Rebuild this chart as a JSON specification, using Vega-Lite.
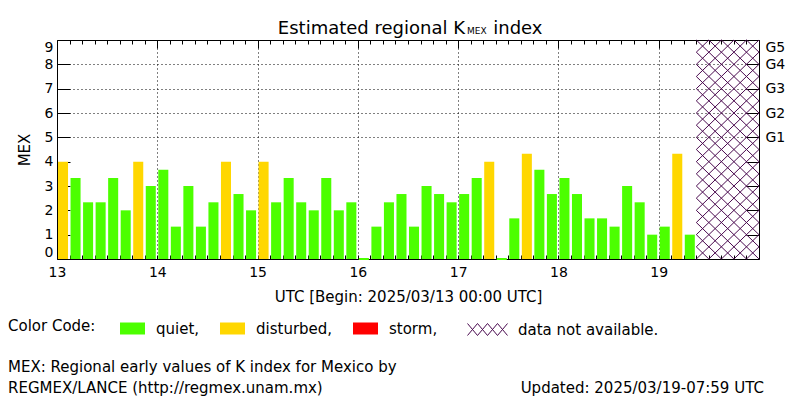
{
  "$schema": "https://vega.github.io/schema/vega-lite/v6.json",
  "width": 702,
  "height": 219,
  "autosize": {"type": "none"},
  "padding": {"left": 57, "top": 40, "right": 41, "bottom": 141},
  "background": "white",
  "config": {
    "font": "DejaVu Sans",
    "view": {"stroke": null},
    "axis": {
      "domainColor": "black", "tickColor": "black", "labelColor": "black", "titleColor": "black",
      "labelFontSize": 14, "titleFontSize": 15, "titleFontWeight": "normal",
      "labelFont": "DejaVu Sans", "titleFont": "DejaVu Sans", "domainWidth": 1, "tickWidth": 1
    },
    "legend": {"labelFont": "DejaVu Sans", "titleFont": "DejaVu Sans"}
  },
  "datasets": {
    "kmex": [
      {"start": 13.0, "end": 13.125, "k": 4.0, "status": "disturbed"},
      {"start": 13.125, "end": 13.25, "k": 3.33, "status": "quiet"},
      {"start": 13.25, "end": 13.375, "k": 2.33, "status": "quiet"},
      {"start": 13.375, "end": 13.5, "k": 2.33, "status": "quiet"},
      {"start": 13.5, "end": 13.625, "k": 3.33, "status": "quiet"},
      {"start": 13.625, "end": 13.75, "k": 2.0, "status": "quiet"},
      {"start": 13.75, "end": 13.875, "k": 4.0, "status": "disturbed"},
      {"start": 13.875, "end": 14.0, "k": 3.0, "status": "quiet"},
      {"start": 14.0, "end": 14.125, "k": 3.67, "status": "quiet"},
      {"start": 14.125, "end": 14.25, "k": 1.33, "status": "quiet"},
      {"start": 14.25, "end": 14.375, "k": 3.0, "status": "quiet"},
      {"start": 14.375, "end": 14.5, "k": 1.33, "status": "quiet"},
      {"start": 14.5, "end": 14.625, "k": 2.33, "status": "quiet"},
      {"start": 14.625, "end": 14.75, "k": 4.0, "status": "disturbed"},
      {"start": 14.75, "end": 14.875, "k": 2.67, "status": "quiet"},
      {"start": 14.875, "end": 15.0, "k": 2.0, "status": "quiet"},
      {"start": 15.0, "end": 15.125, "k": 4.0, "status": "disturbed"},
      {"start": 15.125, "end": 15.25, "k": 2.33, "status": "quiet"},
      {"start": 15.25, "end": 15.375, "k": 3.33, "status": "quiet"},
      {"start": 15.375, "end": 15.5, "k": 2.33, "status": "quiet"},
      {"start": 15.5, "end": 15.625, "k": 2.0, "status": "quiet"},
      {"start": 15.625, "end": 15.75, "k": 3.33, "status": "quiet"},
      {"start": 15.75, "end": 15.875, "k": 2.0, "status": "quiet"},
      {"start": 15.875, "end": 16.0, "k": 2.33, "status": "quiet"},
      {"start": 16.0, "end": 16.125, "k": 0.0, "status": "quiet"},
      {"start": 16.125, "end": 16.25, "k": 1.33, "status": "quiet"},
      {"start": 16.25, "end": 16.375, "k": 2.33, "status": "quiet"},
      {"start": 16.375, "end": 16.5, "k": 2.67, "status": "quiet"},
      {"start": 16.5, "end": 16.625, "k": 1.33, "status": "quiet"},
      {"start": 16.625, "end": 16.75, "k": 3.0, "status": "quiet"},
      {"start": 16.75, "end": 16.875, "k": 2.67, "status": "quiet"},
      {"start": 16.875, "end": 17.0, "k": 2.33, "status": "quiet"},
      {"start": 17.0, "end": 17.125, "k": 2.67, "status": "quiet"},
      {"start": 17.125, "end": 17.25, "k": 3.33, "status": "quiet"},
      {"start": 17.25, "end": 17.375, "k": 4.0, "status": "disturbed"},
      {"start": 17.375, "end": 17.5, "k": 0.0, "status": "quiet"},
      {"start": 17.5, "end": 17.625, "k": 1.67, "status": "quiet"},
      {"start": 17.625, "end": 17.75, "k": 4.33, "status": "disturbed"},
      {"start": 17.75, "end": 17.875, "k": 3.67, "status": "quiet"},
      {"start": 17.875, "end": 18.0, "k": 2.67, "status": "quiet"},
      {"start": 18.0, "end": 18.125, "k": 3.33, "status": "quiet"},
      {"start": 18.125, "end": 18.25, "k": 2.67, "status": "quiet"},
      {"start": 18.25, "end": 18.375, "k": 1.67, "status": "quiet"},
      {"start": 18.375, "end": 18.5, "k": 1.67, "status": "quiet"},
      {"start": 18.5, "end": 18.625, "k": 1.33, "status": "quiet"},
      {"start": 18.625, "end": 18.75, "k": 3.0, "status": "quiet"},
      {"start": 18.75, "end": 18.875, "k": 2.33, "status": "quiet"},
      {"start": 18.875, "end": 19.0, "k": 1.0, "status": "quiet"},
      {"start": 19.0, "end": 19.125, "k": 1.33, "status": "quiet"},
      {"start": 19.125, "end": 19.25, "k": 4.33, "status": "disturbed"},
      {"start": 19.25, "end": 19.375, "k": 1.0, "status": "quiet"}
    ],
    "hatch": [
      {"x1": 19.875, "y1": 0, "x2": 20, "y2": 0.5},
      {"x1": 19.75, "y1": 0, "x2": 20, "y2": 1},
      {"x1": 19.625, "y1": 0, "x2": 20, "y2": 1.5},
      {"x1": 19.5, "y1": 0, "x2": 20, "y2": 2},
      {"x1": 19.375, "y1": 0, "x2": 20, "y2": 2.5},
      {"x1": 19.375, "y1": 0.5, "x2": 20, "y2": 3},
      {"x1": 19.375, "y1": 1, "x2": 20, "y2": 3.5},
      {"x1": 19.375, "y1": 1.5, "x2": 20, "y2": 4},
      {"x1": 19.375, "y1": 2, "x2": 20, "y2": 4.5},
      {"x1": 19.375, "y1": 2.5, "x2": 20, "y2": 5},
      {"x1": 19.375, "y1": 3, "x2": 20, "y2": 5.5},
      {"x1": 19.375, "y1": 3.5, "x2": 20, "y2": 6},
      {"x1": 19.375, "y1": 4, "x2": 20, "y2": 6.5},
      {"x1": 19.375, "y1": 4.5, "x2": 20, "y2": 7},
      {"x1": 19.375, "y1": 5, "x2": 20, "y2": 7.5},
      {"x1": 19.375, "y1": 5.5, "x2": 20, "y2": 8},
      {"x1": 19.375, "y1": 6, "x2": 20, "y2": 8.5},
      {"x1": 19.375, "y1": 6.5, "x2": 20, "y2": 9},
      {"x1": 19.375, "y1": 7, "x2": 19.875, "y2": 9},
      {"x1": 19.375, "y1": 7.5, "x2": 19.75, "y2": 9},
      {"x1": 19.375, "y1": 8, "x2": 19.625, "y2": 9},
      {"x1": 19.375, "y1": 8.5, "x2": 19.5, "y2": 9},
      {"x1": 19.375, "y1": 0.5, "x2": 19.5, "y2": 0},
      {"x1": 19.375, "y1": 1, "x2": 19.625, "y2": 0},
      {"x1": 19.375, "y1": 1.5, "x2": 19.75, "y2": 0},
      {"x1": 19.375, "y1": 2, "x2": 19.875, "y2": 0},
      {"x1": 19.375, "y1": 2.5, "x2": 20, "y2": 0},
      {"x1": 19.375, "y1": 3, "x2": 20, "y2": 0.5},
      {"x1": 19.375, "y1": 3.5, "x2": 20, "y2": 1},
      {"x1": 19.375, "y1": 4, "x2": 20, "y2": 1.5},
      {"x1": 19.375, "y1": 4.5, "x2": 20, "y2": 2},
      {"x1": 19.375, "y1": 5, "x2": 20, "y2": 2.5},
      {"x1": 19.375, "y1": 5.5, "x2": 20, "y2": 3},
      {"x1": 19.375, "y1": 6, "x2": 20, "y2": 3.5},
      {"x1": 19.375, "y1": 6.5, "x2": 20, "y2": 4},
      {"x1": 19.375, "y1": 7, "x2": 20, "y2": 4.5},
      {"x1": 19.375, "y1": 7.5, "x2": 20, "y2": 5},
      {"x1": 19.375, "y1": 8, "x2": 20, "y2": 5.5},
      {"x1": 19.375, "y1": 8.5, "x2": 20, "y2": 6},
      {"x1": 19.375, "y1": 9, "x2": 20, "y2": 6.5},
      {"x1": 19.5, "y1": 9, "x2": 20, "y2": 7},
      {"x1": 19.625, "y1": 9, "x2": 20, "y2": 7.5},
      {"x1": 19.75, "y1": 9, "x2": 20, "y2": 8},
      {"x1": 19.875, "y1": 9, "x2": 20, "y2": 8.5}
    ]
  },
  "resolve": {"axis": {"x": "independent", "y": "independent"}},
  "layer": [
    {
      "data": {"name": "kmex"},
      "mark": {"type": "rect", "xOffset": 1, "x2Offset": -1.5, "stroke": "#4cff00"},
      "encoding": {
        "x": {
          "field": "start", "type": "quantitative",
          "scale": {"domain": [13, 20], "nice": false, "zero": false},
          "axis": {
            "orient": "bottom",
            "values": [13, 13.125, 13.25, 13.375, 13.5, 13.625, 13.75, 13.875, 14, 14.125, 14.25, 14.375, 14.5, 14.625, 14.75, 14.875, 15, 15.125, 15.25, 15.375, 15.5, 15.625, 15.75, 15.875, 16, 16.125, 16.25, 16.375, 16.5, 16.625, 16.75, 16.875, 17, 17.125, 17.25, 17.375, 17.5, 17.625, 17.75, 17.875, 18, 18.125, 18.25, 18.375, 18.5, 18.625, 18.75, 18.875, 19, 19.125, 19.25, 19.375, 19.5, 19.625, 19.75, 19.875, 20],
            "labelExpr": "datum.value % 1 === 0 && datum.value < 20 ? format(datum.value, 'd') : ''",
            "labelOverlap": false, "labelFlush": false,
            "tickSize": -4, "labelPadding": 10,
            "grid": true, "gridColor": "black", "gridDash": [1, 3],
            "gridOpacity": {"condition": {"test": "datum.value % 1 === 0 && datum.value > 13 && datum.value < 20", "value": 1}, "value": 0},
            "title": "UTC [Begin: 2025/03/13 00:00 UTC]", "titlePadding": 10
          }
        },
        "x2": {"field": "end"},
        "y": {
          "field": "k", "type": "quantitative",
          "scale": {"domain": [0, 9], "nice": false},
          "axis": {
            "orient": "left", "values": [0, 1, 2, 3, 4, 5, 6, 7, 8, 9],
            "tickSize": -13, "labelPadding": 17, "labelOverlap": false, "labelFlush": true,
            "grid": true, "gridColor": "black", "gridDash": [1, 3],
            "gridOpacity": {"condition": {"test": "datum.value >= 5 && datum.value <= 8", "value": 1}, "value": 0},
            "title": "MEX", "titlePadding": 12
          }
        },
        "y2": {"datum": 0},
        "fill": {
          "field": "status", "type": "nominal",
          "scale": {"domain": ["quiet", "disturbed", "storm"], "range": ["#4cff00", "#ffd700", "#ff0000"]},
          "legend": {
            "orient": "none", "legendX": -49, "legendY": 276, "direction": "horizontal",
            "title": "Color Code:", "titleOrient": "left", "titlePadding": 24,
            "titleAnchor": "middle", "titleBaseline": "middle",
            "titleFontSize": 15, "titleFontWeight": "normal", "titleColor": "black",
            "labelFontSize": 15, "labelColor": "black",
            "labelExpr": "datum.label + ','",
            "symbolType": "M-1,-0.48L1,-0.48L1,0.48L-1,0.48Z", "symbolSize": 625,
            "symbolStrokeWidth": 0, "symbolOpacity": 1,
            "labelOffset": 11, "columnPadding": 20, "gridAlign": "none"
          }
        },
        "strokeWidth": {"condition": {"test": "datum.k == 0", "value": 2}, "value": 0}
      }
    },
    {
      "data": {"name": "hatch"},
      "mark": {"type": "rule", "strokeWidth": 1},
      "encoding": {
        "x": {
          "field": "x1", "type": "quantitative",
          "scale": {"domain": [13, 20], "nice": false, "zero": false},
          "axis": {
            "orient": "top",
            "values": [13, 13.125, 13.25, 13.375, 13.5, 13.625, 13.75, 13.875, 14, 14.125, 14.25, 14.375, 14.5, 14.625, 14.75, 14.875, 15, 15.125, 15.25, 15.375, 15.5, 15.625, 15.75, 15.875, 16, 16.125, 16.25, 16.375, 16.5, 16.625, 16.75, 16.875, 17, 17.125, 17.25, 17.375, 17.5, 17.625, 17.75, 17.875, 18, 18.125, 18.25, 18.375, 18.5, 18.625, 18.75, 18.875, 19, 19.125, 19.25, 19.375, 19.5, 19.625, 19.75, 19.875, 20],
            "labels": false, "grid": false, "title": null,
            "tickSize": {"condition": {"test": "datum.value % 1 === 0", "value": -8}, "value": -4}
          }
        },
        "x2": {"field": "x2"},
        "y": {
          "field": "y1", "type": "quantitative",
          "scale": {"domain": [0, 9], "nice": false},
          "axis": {
            "orient": "right", "values": [1, 2, 3, 4, 5, 6, 7, 8, 9],
            "tickSize": -13, "labelPadding": 19, "grid": false, "title": null,
            "labelExpr": "datum.value >= 5 ? 'G' + (datum.value - 4) : ''",
            "labelOverlap": false, "labelFlush": true
          }
        },
        "y2": {"field": "y2"},
        "stroke": {
          "datum": "data not available.", "type": "nominal",
          "scale": {"range": ["#4a0a4f"]},
          "legend": {
            "orient": "none", "legendX": 410, "legendY": 269, "title": null,
            "labelFontSize": 15, "labelColor": "black",
            "symbolType": "M-1,-0.3L-0.5,0.3M-1,0.3L-0.5,-0.3M-0.5,-0.3L0,0.3M-0.5,0.3L0,-0.3M0,-0.3L0.5,0.3M0,0.3L0.5,-0.3M0.5,-0.3L1,0.3M0.5,0.3L1,-0.3",
            "symbolSize": 1600, "symbolStrokeWidth": 1, "symbolFillColor": "transparent",
            "labelOffset": 10
          }
        }
      }
    },
    {
      "data": {"values": [{"text": "Estimated regional K"}]},
      "mark": {"type": "text", "align": "right", "baseline": "alphabetic", "fontSize": 18, "color": "black"},
      "encoding": {
        "text": {"field": "text"},
        "x": {"datum": 17.068, "type": "quantitative", "scale": {"domain": [13, 20], "nice": false, "zero": false}, "axis": null},
        "y": {"datum": 9.25, "type": "quantitative", "scale": {"domain": [0, 9], "nice": false}, "axis": null}
      }
    },
    {
      "data": {"values": [{"text": "MEX"}]},
      "mark": {"type": "text", "align": "left", "baseline": "alphabetic", "fontSize": 9, "color": "black"},
      "encoding": {
        "text": {"field": "text"},
        "x": {"datum": 17.088, "type": "quantitative", "scale": {"domain": [13, 20], "nice": false, "zero": false}, "axis": null},
        "y": {"datum": 9.23, "type": "quantitative", "scale": {"domain": [0, 9], "nice": false}, "axis": null}
      }
    },
    {
      "data": {"values": [{"text": "index"}]},
      "mark": {"type": "text", "align": "left", "baseline": "alphabetic", "fontSize": 18, "color": "black"},
      "encoding": {
        "text": {"field": "text"},
        "x": {"datum": 17.35, "type": "quantitative", "scale": {"domain": [13, 20], "nice": false, "zero": false}, "axis": null},
        "y": {"datum": 9.25, "type": "quantitative", "scale": {"domain": [0, 9], "nice": false}, "axis": null}
      }
    },
    {
      "data": {"values": [{"text": "MEX: Regional early values of K index for Mexico by"}]},
      "mark": {"type": "text", "align": "left", "baseline": "middle", "fontSize": 15, "color": "black"},
      "encoding": {
        "text": {"field": "text"},
        "x": {"datum": 12.5115, "type": "quantitative", "scale": {"domain": [13, 20], "nice": false, "zero": false}, "axis": null},
        "y": {"datum": -4.44, "type": "quantitative", "scale": {"domain": [0, 9], "nice": false}, "axis": null}
      }
    },
    {
      "data": {"values": [{"text": "REGMEX/LANCE (http://regmex.unam.mx)"}]},
      "mark": {"type": "text", "align": "left", "baseline": "middle", "fontSize": 15, "color": "black"},
      "encoding": {
        "text": {"field": "text"},
        "x": {"datum": 12.5115, "type": "quantitative", "scale": {"domain": [13, 20], "nice": false, "zero": false}, "axis": null},
        "y": {"datum": -5.3, "type": "quantitative", "scale": {"domain": [0, 9], "nice": false}, "axis": null}
      }
    },
    {
      "data": {"values": [{"text": "Updated: 2025/03/19-07:59 UTC"}]},
      "mark": {"type": "text", "align": "right", "baseline": "middle", "fontSize": 15, "color": "black"},
      "encoding": {
        "text": {"field": "text"},
        "x": {"datum": 20.049, "type": "quantitative", "scale": {"domain": [13, 20], "nice": false, "zero": false}, "axis": null},
        "y": {"datum": -5.3, "type": "quantitative", "scale": {"domain": [0, 9], "nice": false}, "axis": null}
      }
    }
  ]
}
